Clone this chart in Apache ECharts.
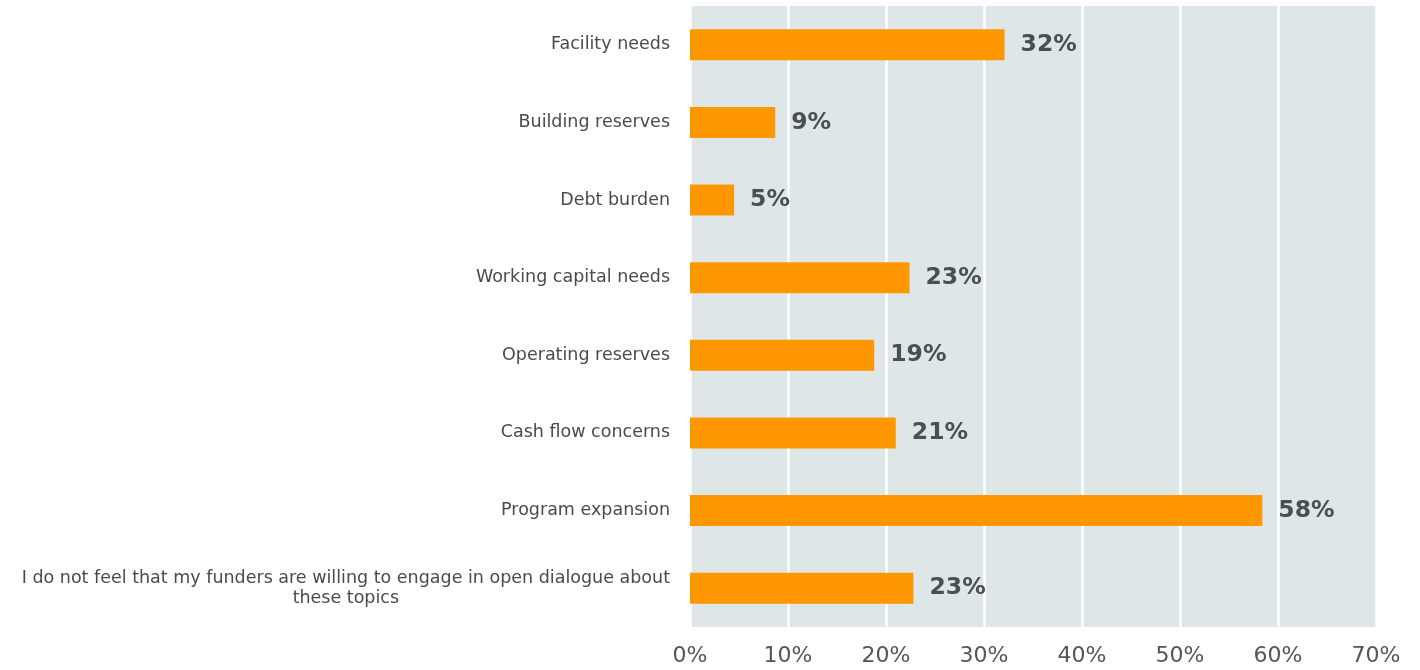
<!DOCTYPE html>
<html><head><meta charset="utf-8">
<script src="https://cdn.jsdelivr.net/npm/echarts@6/dist/echarts.min.js"></script>
<style>html,body{margin:0;padding:0;background:#fff}#c{width:1420px;height:670px}</style>
</head><body><div id="c"></div>
<script>
const categories = [
  "Facility needs",
  "Building reserves",
  "Debt burden",
  "Working capital needs",
  "Operating reserves",
  "Cash flow concerns",
  "Program expansion",
  "I do not feel that my funders are willing to engage in open dialogue about these topics"
];
const values = [32.1, 8.7, 4.5, 22.4, 18.8, 21.0, 58.4, 22.8];
const valueLabels = ["32%", "9%", "5%", "23%", "19%", "21%", "58%", "23%"];
const xTicks = [0, 10, 20, 30, 40, 50, 60, 70];

function wrap(t, max) {
  const words = t.split(' ');
  const lines = [];
  let cur = '';
  for (const w of words) {
    if (cur && (cur + ' ' + w).length > max) { lines.push(cur); cur = w; }
    else cur = cur ? cur + ' ' + w : w;
  }
  if (cur) lines.push(cur);
  return lines.map(l => '{c|' + l + '}').join('\n');
}

const chart = echarts.init(document.getElementById('c'));
chart.setOption({
  animation: false,
  grid: { left: 690, right: 44, top: 6, bottom: 43, containLabel: false,
          show: true, backgroundColor: '#dfe6e8', borderWidth: 0 },
  xAxis: {
    type: 'value', min: xTicks[0], max: xTicks[xTicks.length - 1], interval: 10,
    axisLine: { show: false }, axisTick: { show: false },
    splitLine: { show: true, lineStyle: { color: '#ffffff', width: 2.5 } },
    axisLabel: { formatter: v => v + '%', fontFamily: 'DejaVu Sans', fontSize: 22,
                 color: '#555555', margin: 18 }
  },
  yAxis: {
    type: 'category', inverse: true, data: categories,
    axisLine: { show: false }, axisTick: { show: false },
    axisLabel: {
      margin: 20, fontFamily: 'DejaVu Sans', fontSize: 17.5, color: '#4a4a4a',
      formatter: v => wrap(v, 75),
      rich: { c: { align: 'center', fontFamily: 'DejaVu Sans', fontSize: 17.5,
                   color: '#4a4a4a', lineHeight: 20 } }
    }
  },
  series: [{
    type: 'bar', data: values, barWidth: 31,
    itemStyle: { color: '#ff9800' },
    label: {
      show: true, position: 'right', distance: 16,
      formatter: p => valueLabels[p.dataIndex],
      fontFamily: 'DejaVu Sans', fontWeight: 'bold', fontSize: 23.5, color: '#4a4f52'
    }
  }]
});
</script></body></html>
